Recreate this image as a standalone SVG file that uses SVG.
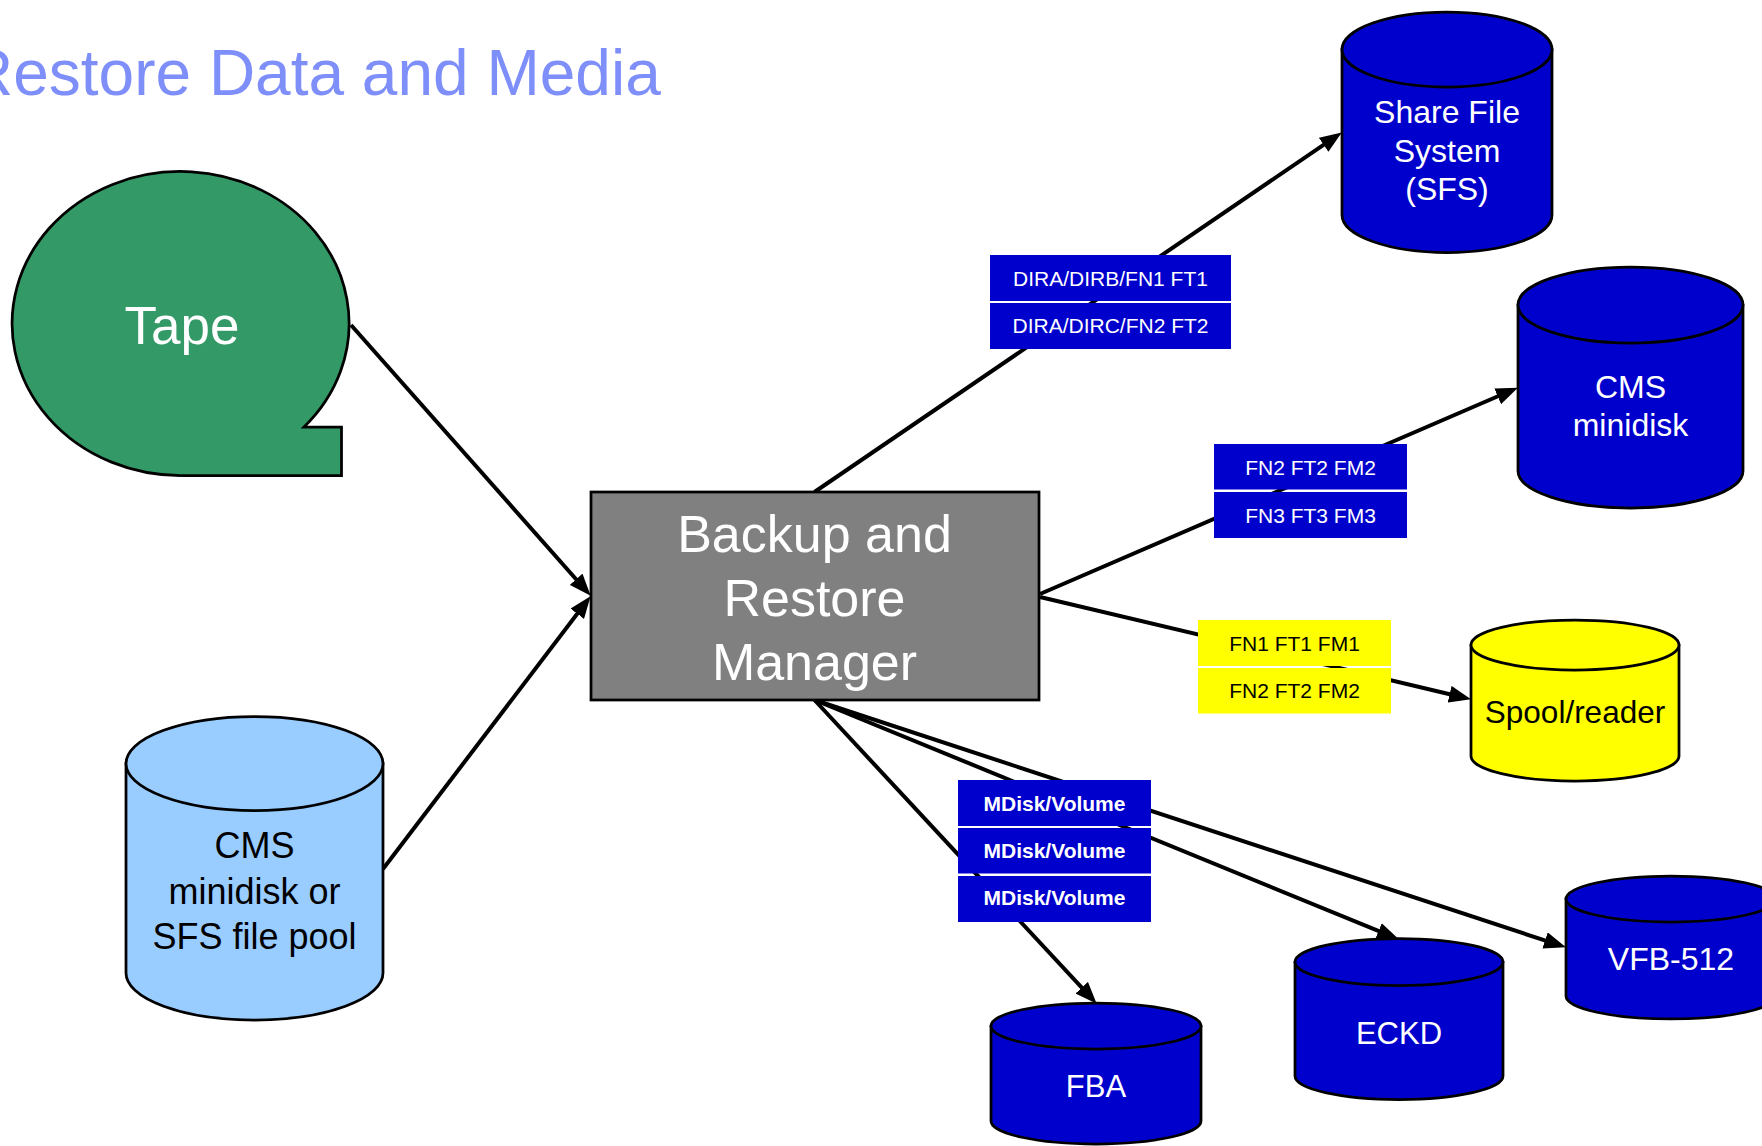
<svg xmlns="http://www.w3.org/2000/svg" width="1762" height="1146" viewBox="0 0 1762 1146">
<style>
text{font-family:"Liberation Sans",Arial,sans-serif;text-anchor:middle}
.shape{stroke:#000;stroke-width:2.75}
.blue{fill:#0000CC}
.wt{fill:#fff}
.bk{fill:#000}
.conn{stroke:#000;stroke-width:4;fill:none;marker-end:url(#arr)}
.lab{font-size:21px}
.mlab{font-size:21px;font-weight:bold}
</style>
<defs>
<marker id="arr" viewBox="0 0 22 17" refX="11" refY="8.5" markerWidth="22" markerHeight="17" orient="auto" markerUnits="userSpaceOnUse">
<path d="M0,0 L22,8.5 L0,17 Z" fill="#000"/>
</marker>
</defs>
<rect width="1762" height="1146" fill="#fff"/>
<text x="-33" y="95" style="text-anchor:start;font-size:64px;fill:#7F8FFA">Restore Data and Media</text>

<g id="connectors">
<line class="conn" x1="351" y1="325" x2="583.4" y2="587.5"/>
<line class="conn" x1="383" y1="869" x2="583.9" y2="605"/>
<line class="conn" x1="814.5" y1="492" x2="1332.7" y2="138.6"/>
<line class="conn" x1="1040" y1="594" x2="1507.8" y2="392"/>
<line class="conn" x1="1040" y1="597" x2="1460.3" y2="696.7"/>
<line class="conn" x1="814.5" y1="700" x2="1089.2" y2="995.7"/>
<line class="conn" x1="814.5" y1="700" x2="1388.7" y2="935.2"/>
<line class="conn" x1="814.5" y1="700" x2="1555.5" y2="943.9"/>
</g>

<g id="tape">
<path class="shape" fill="#339966" d="M182,475.5 A168.5,152 0 1 1 304,427 L341.5,427 L341.5,475.5 Z"/>
<text class="wt" x="182" y="344" style="font-size:53px">Tape</text>
</g>

<g id="brm">
<rect class="shape" x="591" y="492" width="448" height="208" fill="#808080"/>
<text class="wt" x="814.5" y="551.5" style="font-size:52px">Backup and</text>
<text class="wt" x="814.5" y="615.5" style="font-size:52px">Restore</text>
<text class="wt" x="814.5" y="679.5" style="font-size:52px">Manager</text>
</g>

<g id="cms-pool">
<path class="shape" fill="#99CCFF" d="M126,763.5 L126,973 A128.5,47 0 0 0 383,973 L383,763.5 Z"/>
<ellipse class="shape" fill="#99CCFF" cx="254.5" cy="763.5" rx="128.5" ry="47"/>
<text class="bk" x="254.5" y="858" style="font-size:36px">CMS</text>
<text class="bk" x="254.5" y="904" style="font-size:36px">minidisk or</text>
<text class="bk" x="254.5" y="949" style="font-size:36px">SFS file pool</text>
</g>

<g id="sfs">
<path class="shape blue" d="M1342,49.5 L1342,215 A105,37.5 0 0 0 1552,215 L1552,49.5 Z"/>
<ellipse class="shape blue" cx="1447" cy="49.5" rx="105" ry="37.5"/>
<text class="wt" x="1447" y="123" style="font-size:32px">Share File</text>
<text class="wt" x="1447" y="161.5" style="font-size:32px">System</text>
<text class="wt" x="1447" y="199.5" style="font-size:32px">(SFS)</text>
</g>

<g id="cms-minidisk">
<path class="shape blue" d="M1518,305 L1518,471 A112.5,37 0 0 0 1743,471 L1743,305 Z"/>
<ellipse class="shape blue" cx="1630.5" cy="305" rx="112.5" ry="38"/>
<text class="wt" x="1630.5" y="398" style="font-size:32px">CMS</text>
<text class="wt" x="1630.5" y="436" style="font-size:32px">minidisk</text>
</g>

<g id="spool">
<path class="shape" fill="#FFFF00" d="M1471,645 L1471,756 A104,25 0 0 0 1679,756 L1679,645 Z"/>
<ellipse class="shape" fill="#FFFF00" cx="1575" cy="645" rx="104" ry="25"/>
<text class="bk" x="1575" y="723" style="font-size:31.5px">Spool/reader</text>
</g>

<g id="fba">
<path class="shape blue" d="M991,1026 L991,1121 A105,23 0 0 0 1201,1121 L1201,1026 Z"/>
<ellipse class="shape blue" cx="1096" cy="1026" rx="105" ry="23"/>
<text class="wt" x="1096" y="1097" style="font-size:31px">FBA</text>
</g>

<g id="eckd">
<path class="shape blue" d="M1295,962 L1295,1076 A104,23.5 0 0 0 1503,1076 L1503,962 Z"/>
<ellipse class="shape blue" cx="1399" cy="962" rx="104" ry="23.5"/>
<text class="wt" x="1399" y="1044" style="font-size:31px">ECKD</text>
</g>

<g id="vfb">
<path class="shape blue" d="M1566,899 L1566,996 A105,23 0 0 0 1776,996 L1776,899 Z"/>
<ellipse class="shape blue" cx="1671" cy="899" rx="105" ry="23"/>
<text class="wt" x="1671" y="970" style="font-size:32px">VFB-512</text>
</g>

<g id="labels-sfs">
<rect class="blue" x="990" y="255" width="241" height="46"/>
<rect class="blue" x="990" y="303" width="241" height="46"/>
<text class="wt lab" x="1110.5" y="286">DIRA/DIRB/FN1 FT1</text>
<text class="wt lab" x="1110.5" y="333">DIRA/DIRC/FN2 FT2</text>
</g>

<g id="labels-cms">
<rect class="blue" x="1214" y="444" width="193" height="45.5"/>
<rect class="blue" x="1214" y="492" width="193" height="46"/>
<text class="wt lab" x="1310.5" y="475">FN2 FT2 FM2</text>
<text class="wt lab" x="1310.5" y="522.5">FN3 FT3 FM3</text>
</g>

<g id="labels-spool">
<rect fill="#FFFF00" x="1198" y="620" width="193" height="46"/>
<rect fill="#FFFF00" x="1198" y="668" width="193" height="45.5"/>
<text class="bk lab" x="1294.5" y="650.5">FN1 FT1 FM1</text>
<text class="bk lab" x="1294.5" y="698">FN2 FT2 FM2</text>
</g>

<g id="labels-mdisk">
<rect class="blue" x="958" y="780" width="193" height="46"/>
<rect class="blue" x="958" y="828" width="193" height="45.5"/>
<rect class="blue" x="958" y="876" width="193" height="46"/>
<text class="wt mlab" x="1054.5" y="811">MDisk/Volume</text>
<text class="wt mlab" x="1054.5" y="858">MDisk/Volume</text>
<text class="wt mlab" x="1054.5" y="905">MDisk/Volume</text>
</g>
</svg>
